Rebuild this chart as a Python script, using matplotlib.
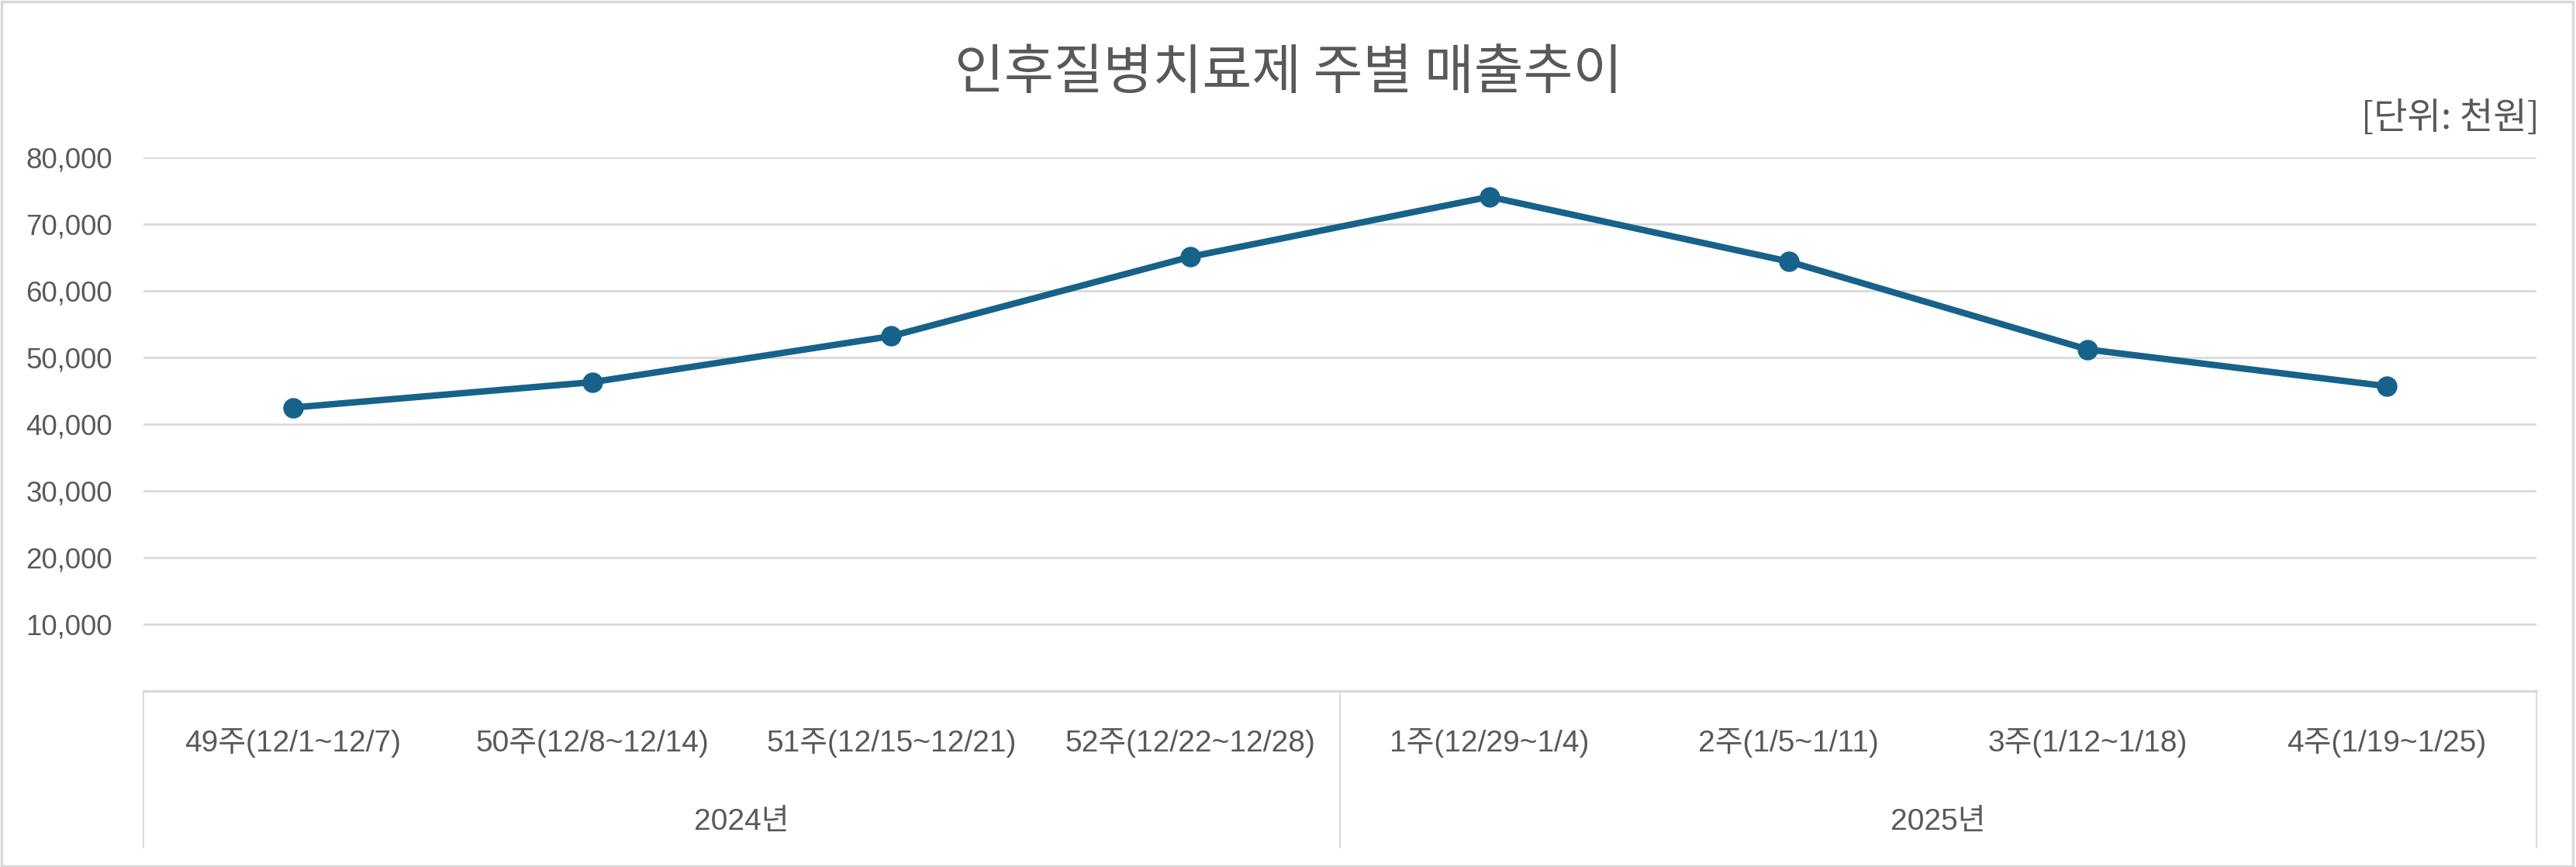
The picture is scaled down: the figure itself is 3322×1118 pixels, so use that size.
import matplotlib
matplotlib.use("Agg")
import matplotlib.pyplot as plt
from matplotlib.patches import Rectangle
from matplotlib.ticker import FuncFormatter

# ---- data ----
categories = ["49주(12/1~12/7)", "50주(12/8~12/14)", "51주(12/15~12/21)", "52주(12/22~12/28)",
              "1주(12/29~1/4)", "2주(1/5~1/11)", "3주(1/12~1/18)", "4주(1/19~1/25)"]
sales = [42500, 46300, 53200, 65100, 74100, 64400, 51200, 45700]
year_groups = ["2024년", "2025년"]
group_sizes = [4, 4]
y_ticks = [10000, 20000, 30000, 40000, 50000, 60000, 70000, 80000]
title = "인후질병치료제 주별 매출추이"
unit_label = "[단위: 천원]"

# ---- style ----
W, H, DPI = 3323, 1118, 100
TXT = "#595959"
GRID = "#d9d9d9"
LINE = "#17628a"
MIX = ["Liberation Sans", "Noto Sans CJK KR", "DejaVu Sans"]
KR = ["Noto Sans CJK KR", "DejaVu Sans"]
plt.rcParams["font.family"] = MIX

fig = plt.figure(figsize=(W / DPI, H / DPI), dpi=DPI)
fig.patch.set_facecolor("white")

# outer chart border
fig.patches.append(Rectangle((0.0005, 0.001), 0.998, 0.997, transform=fig.transFigure,
                             fill=False, edgecolor=GRID, linewidth=2.5))

left, right = 185 / W, 3271 / W
bottom, top = 1 - 891 / H, 1 - 203 / H
ax = fig.add_axes([left, bottom, right - left, top - bottom])

x = list(range(len(categories)))
ax.plot(x, sales, color=LINE, linewidth=6.0, marker="o", markersize=18,
        markerfacecolor=LINE, markeredgecolor=LINE, solid_capstyle="round", zorder=3)

ax.set_xlim(-0.5, len(categories) - 0.5)
ax.set_ylim(0, 80000)
ax.set_yticks(y_ticks)
ax.yaxis.set_major_formatter(FuncFormatter(lambda v, p: f"{int(v):,}"))
ax.tick_params(axis="y", length=0, pad=29, labelsize=26.5, labelcolor=TXT)
ax.grid(axis="y", color=GRID, linewidth=2.0)
ax.set_axisbelow(True)
ax.set_xticks([])
for s in ["top", "right", "left"]:
    ax.spines[s].set_visible(False)
ax.spines["bottom"].set_color(GRID)
ax.spines["bottom"].set_linewidth(2.2)

# category axis area
span = (891 - 203)
y_cat = -(958 - 891) / span
y_year = -(1060 - 891) / span
y_box = -(1093 - 891) / span
tr = ax.get_xaxis_transform()
for i, c in enumerate(categories):
    ax.text(i, y_cat, c, transform=tr, ha="center", va="center", fontsize=28,
            color=TXT, family=MIX, clip_on=False)

start = 0
bounds = [-0.5]
for g, n in zip(year_groups, group_sizes):
    center = start + (n - 1) / 2
    ax.text(center, y_year, g, transform=tr, ha="center", va="center", fontsize=28,
            color=TXT, family=MIX, clip_on=False)
    start += n
    bounds.append(start - 0.5)
for b in bounds:
    ax.plot([b, b], [0, y_box], transform=tr, color=GRID, linewidth=1.4, clip_on=False)

# title and unit
fig.text(1662 / W, 1 - 94 / H, title, ha="center", va="center", fontsize=50,
         color=TXT, family=KR)
fig.text(3275 / W, 1 - 153 / H, unit_label, ha="right", va="center", fontsize=34,
         color=TXT, family=KR)

fig.savefig("out.png", dpi=DPI, facecolor="white")
